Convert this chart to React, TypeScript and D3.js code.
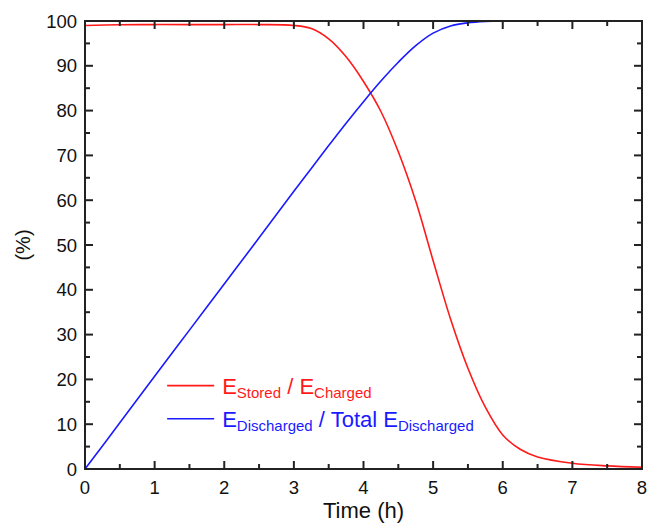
import React from "react";
import * as d3 from "d3";

// time axis (h) and the two curves
const times = [0, 0.5, 1, 1.5, 2, 2.5, 3, 3.25, 3.5, 3.75, 4, 4.25, 4.5, 4.75, 5, 5.25, 5.5, 5.75, 6, 6.25, 6.5, 7, 7.5, 8];
const storedPct = [99, 99.15, 99.2, 99.2, 99.2, 99.2, 99.0, 98.3, 96, 92, 86.5, 79.8, 70.8, 59.8, 46.5, 33.5, 22.5, 13.8, 7.6, 4.4, 2.7, 1.3, 0.7, 0.4];
const dischargedPct = [0, 10.3, 20.7, 31, 41.3, 51.6, 62, 67.1, 72.2, 77.2, 82, 86.6, 90.8, 94.5, 97.3, 98.9, 99.6, 99.9, 100, 100, 100, 100, 100, 100];

const xTicks = [0, 1, 2, 3, 4, 5, 6, 7, 8];
const yTicks = [0, 10, 20, 30, 40, 50, 60, 70, 80, 90, 100];

const RED = "#ff1a1a";
const BLUE = "#1a1aff";
const FONT = "'Liberation Sans', Arial, sans-serif";

export default function App() {
    const W = 648, H = 525;
    const margin = { top: 21, right: 6, bottom: 56, left: 85 };
    const w = W - margin.left - margin.right;
    const h = H - margin.top - margin.bottom;

    const x = d3.scaleLinear().domain([0, 8]).range([0, w]);
    const y = d3.scaleLinear().domain([0, 100]).range([h, 0]);

    const line = (vals: number[]) =>
        d3.line<number>()
            .x((_, i) => x(times[i]))
            .y(d => y(d))
            .curve(d3.curveCatmullRom.alpha(0.5))(vals) || "";

    const xMinor = d3.range(0.5, 8, 1);
    const yMinor = d3.range(5, 100, 10);
    const major = 8, minor = 5;
    const axisColor = "#222";

    return (
        <div style={{ position: "absolute", left: 0, top: 0 }}>
            <svg width={W} height={H} style={{ display: "block", background: "#fff" }}>
                <g transform={`translate(${margin.left},${margin.top})`}>
                    <path d={line(storedPct)} fill="none" stroke={RED} strokeWidth={1.6} />
                    <path d={line(dischargedPct)} fill="none" stroke={BLUE} strokeWidth={1.6} />

                    {/* frame */}
                    <rect x={0} y={0} width={w} height={h} fill="none" stroke={axisColor} strokeWidth={2} />

                    {/* x ticks, bottom and top, pointing in */}
                    {xTicks.map(t => (
                        <g key={"xt" + t}>
                            <line x1={x(t)} x2={x(t)} y1={h} y2={h - major} stroke={axisColor} strokeWidth={2} />
                            <line x1={x(t)} x2={x(t)} y1={0} y2={major} stroke={axisColor} strokeWidth={2} />
                            <text x={x(t)} y={h + 25} textAnchor="middle" fontSize={18.5} fontFamily={FONT} fill="#111">{t}</text>
                        </g>
                    ))}
                    {xMinor.map(t => (
                        <g key={"xm" + t}>
                            <line x1={x(t)} x2={x(t)} y1={h} y2={h - minor} stroke={axisColor} strokeWidth={2} />
                            <line x1={x(t)} x2={x(t)} y1={0} y2={minor} stroke={axisColor} strokeWidth={2} />
                        </g>
                    ))}

                    {/* y ticks, left and right */}
                    {yTicks.map(v => (
                        <g key={"yt" + v}>
                            <line x1={0} x2={major} y1={y(v)} y2={y(v)} stroke={axisColor} strokeWidth={2} />
                            <line x1={w} x2={w - major} y1={y(v)} y2={y(v)} stroke={axisColor} strokeWidth={2} />
                            <text x={-8} y={y(v)} dy="0.36em" textAnchor="end" fontSize={18.5} fontFamily={FONT} fill="#111">{v}</text>
                        </g>
                    ))}
                    {yMinor.map(v => (
                        <g key={"ym" + v}>
                            <line x1={0} x2={minor} y1={y(v)} y2={y(v)} stroke={axisColor} strokeWidth={2} />
                            <line x1={w} x2={w - minor} y1={y(v)} y2={y(v)} stroke={axisColor} strokeWidth={2} />
                        </g>
                    ))}

                    {/* axis titles */}
                    <text x={w / 2} y={h + 49} textAnchor="middle" fontSize={22} fontFamily={FONT} fill="#111">Time (h)</text>
                    <text transform={`translate(${-62},${h / 2})rotate(-90)`} textAnchor="middle" dy="0.35em" fontSize={20} fontFamily={FONT} fill="#111">(%)</text>

                    {/* legend */}
                    <g transform={`translate(${x(1.18)},${y(18.6)})`}>
                        <line x1={0} x2={47} y1={0} y2={0} stroke={RED} strokeWidth={1.6} />
                        <text x={55} y={8} fontSize={22} fontFamily={FONT} fill={RED}>
                            E<tspan fontSize={15} dy={4}>Stored</tspan>
                            <tspan dy={-4}> / E</tspan>
                            <tspan fontSize={15} dy={4}>Charged</tspan>
                        </text>
                    </g>
                    <g transform={`translate(${x(1.18)},${y(11.2)})`}>
                        <line x1={0} x2={47} y1={0} y2={0} stroke={BLUE} strokeWidth={1.6} />
                        <text x={55} y={8} fontSize={22} fontFamily={FONT} fill={BLUE}>
                            E<tspan fontSize={15} dy={4}>Discharged</tspan>
                            <tspan dy={-4}> / Total E</tspan>
                            <tspan fontSize={15} dy={4}>Discharged</tspan>
                        </text>
                    </g>
                </g>
            </svg>
        </div>
    );
}
